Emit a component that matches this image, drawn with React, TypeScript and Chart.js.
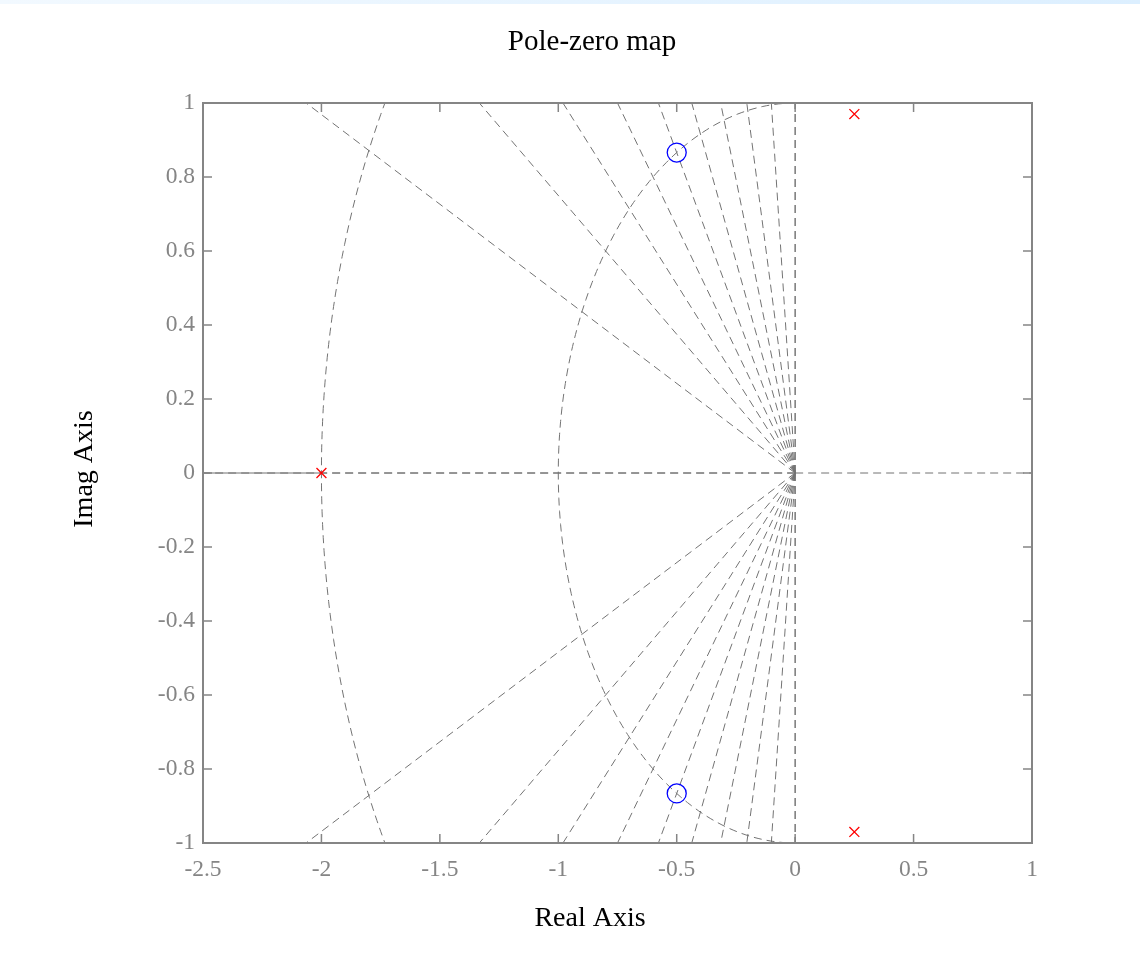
import React, { useEffect, useRef } from "react";
import { Chart, registerables } from "chart.js";

Chart.register(...registerables);

// Axis limits and tick positions
const realRange = [-2.5, 1];
const imagRange = [-1, 1];
const realTicks = [-2.5, -2, -1.5, -1, -0.5, 0, 0.5, 1];
const imagTicks = [-1, -0.8, -0.6, -0.4, -0.2, 0, 0.2, 0.4, 0.6, 0.8, 1];

// Poles (x) and zeros (o) of the system
const poleReal = [-2, 0.25, 0.25];
const poleImag = [0, 0.97, -0.97];
const zeroReal = [-0.5, -0.5];
const zeroImag = [0.866, -0.866];

// s-plane grid: constant damping rays and constant natural frequency arcs
const dampingRatios = [0, 0.1, 0.2, 0.3, 0.4, 0.5, 0.6, 0.7, 0.8, 0.9, 1];
const naturalFrequencies = [1, 2];
const rayLength = 3;

const titleText = "Pole-zero map";
const xTitleText = "Real Axis";
const yTitleText = "Imag Axis";

const SERIF = "'Liberation Serif', 'Times New Roman', Times, serif";
const AXIS_GRAY = "#858585";
const GRID_GRAY = "#737373";
const DASH = [8, 5];

const fmt = (v: number) => String(Math.round(v * 10) / 10);

type Pt = { x: number; y: number };

const gridLine = (data: Pt[], dashed = true) => ({
  data,
  showLine: true,
  pointRadius: 0,
  pointHoverRadius: 0,
  borderColor: GRID_GRAY,
  borderWidth: 1,
  borderDash: dashed ? DASH : [],
  fill: false,
  clip: 0,
  order: 2,
});

function buildGrid() {
  const sets: any[] = [];
  const wnMax = Math.max(...naturalFrequencies);
  dampingRatios.forEach((z) => {
    const signs = z === 1 ? [1] : [1, -1];
    signs.forEach((s) => {
      const dir = { x: -z, y: s * Math.sqrt(1 - z * z) };
      if (z === 1) {
        // the negative real axis: dashed up to the outer arc, continuous beyond it
        sets.push(gridLine([{ x: 0, y: 0 }, { x: dir.x * wnMax, y: 0 }]));
        sets.push(gridLine([{ x: dir.x * wnMax, y: 0 }, { x: dir.x * rayLength, y: 0 }], false));
      } else {
        sets.push(gridLine([{ x: 0, y: 0 }, { x: dir.x * rayLength, y: dir.y * rayLength }]));
      }
    });
  });
  naturalFrequencies.forEach((wn) => {
    const pts: Pt[] = [];
    for (let deg = 90; deg <= 270; deg += 1) {
      const t = (deg * Math.PI) / 180;
      pts.push({ x: wn * Math.cos(t), y: wn * Math.sin(t) });
    }
    sets.push(gridLine(pts));
  });
  // real and imaginary axis lines, drawn outward from the origin
  sets.push(gridLine([{ x: 0, y: 0 }, { x: realRange[0], y: 0 }]));
  sets.push(gridLine([{ x: 0, y: 0 }, { x: realRange[1], y: 0 }]));
  sets.push(gridLine([{ x: 0, y: 0 }, { x: 0, y: imagRange[0] }]));
  sets.push(gridLine([{ x: 0, y: 0 }, { x: 0, y: imagRange[1] }]));
  return sets;
}

// Box around the plot area with inward tick marks, plus the titles
const framePlugin = {
  id: "frame",
  afterDatasetsDraw(chart: any) {
    const { ctx, chartArea, scales } = chart;
    const { left, right, top, bottom } = chartArea;
    const len = 9;
    ctx.save();
    ctx.strokeStyle = AXIS_GRAY;
    ctx.lineWidth = 1.5;
    ctx.setLineDash([]);
    ctx.beginPath();
    realTicks.forEach((v) => {
      const px = scales.x.getPixelForValue(v);
      ctx.moveTo(px, bottom);
      ctx.lineTo(px, bottom - len);
      ctx.moveTo(px, top);
      ctx.lineTo(px, top + len);
    });
    imagTicks.forEach((v) => {
      const py = scales.y.getPixelForValue(v);
      ctx.moveTo(left, py);
      ctx.lineTo(left + len, py);
      ctx.moveTo(right, py);
      ctx.lineTo(right - len, py);
    });
    ctx.stroke();
    ctx.lineWidth = 2;
    ctx.strokeRect(left, top, right - left, bottom - top);

    ctx.fillStyle = "#000000";
    ctx.textAlign = "center";
    ctx.textBaseline = "middle";
    ctx.font = `29px ${SERIF}`;
    ctx.fillText(titleText, 592, 42);
    ctx.font = `28px ${SERIF}`;
    ctx.fillText(xTitleText, 590, 919);
    ctx.translate(85, 469);
    ctx.rotate(-Math.PI / 2);
    ctx.fillText(yTitleText, 0, 0);
    ctx.restore();
  },
};

export default function App() {
  const canvasRef = useRef<HTMLCanvasElement | null>(null);

  useEffect(() => {
    if (!canvasRef.current) return;
    const chart = new Chart(canvasRef.current, {
      type: "scatter",
      data: {
        datasets: [
          {
            label: "Poles",
            data: poleReal.map((x, i) => ({ x, y: poleImag[i] })),
            pointStyle: "crossRot",
            pointRadius: 7,
            pointHoverRadius: 7,
            borderColor: "#ff0000",
            backgroundColor: "#ff0000",
            pointBorderWidth: 1.3,
            showLine: false,
            order: 0,
          },
          {
            label: "Zeros",
            data: zeroReal.map((x, i) => ({ x, y: zeroImag[i] })),
            pointStyle: "circle",
            pointRadius: 9.5,
            pointHoverRadius: 9.5,
            borderColor: "#0000ff",
            backgroundColor: "rgba(0,0,0,0)",
            pointBorderWidth: 1.3,
            showLine: false,
            order: 0,
          },
          ...buildGrid(),
        ] as any,
      },
      options: {
        animation: false,
        responsive: false,
        devicePixelRatio: 1,
        events: [],
        layout: { padding: { left: 0, right: 108, top: 103, bottom: 0 } },
        plugins: {
          legend: { display: false },
          tooltip: { enabled: false },
          title: { display: false },
        },
        scales: {
          x: {
            type: "linear",
            min: realRange[0],
            max: realRange[1],
            afterBuildTicks: (s: any) => {
              s.ticks = realTicks.map((value) => ({ value }));
            },
            afterFit: (s: any) => {
              s.height = 125;
            },
            grid: { display: false, drawTicks: false },
            border: { display: false },
            ticks: {
              color: AXIS_GRAY,
              font: { family: SERIF, size: 23.5 },
              padding: 13,
              maxRotation: 0,
              autoSkip: false,
              callback: (v: any) => fmt(Number(v)),
            },
          },
          y: {
            type: "linear",
            min: imagRange[0],
            max: imagRange[1],
            afterBuildTicks: (s: any) => {
              s.ticks = imagTicks.map((value) => ({ value }));
            },
            afterFit: (s: any) => {
              s.width = 203;
            },
            grid: { display: false, drawTicks: false },
            border: { display: false },
            ticks: {
              color: AXIS_GRAY,
              font: { family: SERIF, size: 23.5 },
              padding: 8,
              autoSkip: false,
              callback: (v: any) => fmt(Number(v)),
            },
          },
        },
      } as any,
      plugins: [framePlugin],
    });
    return () => chart.destroy();
  }, []);

  return (
    <div
      style={{
        position: "absolute",
        left: 0,
        top: 0,
        width: 1140,
        height: 968,
        background: "#ffffff",
        overflow: "hidden",
      }}
    >
      <div
        style={{
          position: "absolute",
          left: 0,
          top: 0,
          width: 1140,
          height: 4,
          background: "linear-gradient(to right, #f2f9ff, #dcefff)",
        }}
      />
      <canvas
        ref={canvasRef}
        width={1140}
        height={968}
        style={{ display: "block", width: 1140, height: 968 }}
      />
    </div>
  );
}
